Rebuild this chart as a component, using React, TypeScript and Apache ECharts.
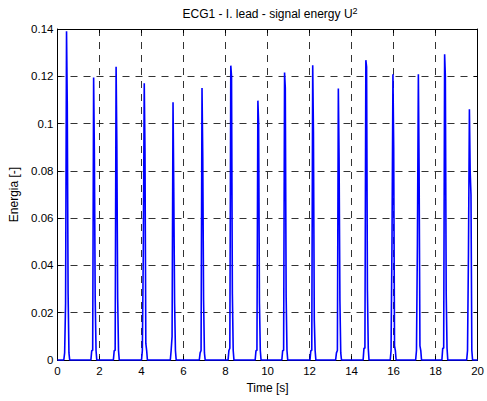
import React, { useEffect, useRef } from "react";
import * as echarts from "echarts";

// Tick labels
const xTicks = [0, 2, 4, 6, 8, 10, 12, 14, 16, 18, 20];
const yTicks = [0, 0.02, 0.04, 0.06, 0.08, 0.1, 0.12, 0.14];

// Beat (R-peak) times in seconds
const beatTimes = [0.43, 1.72, 2.79, 4.13, 5.5, 6.88, 8.25, 9.54, 10.81, 12.15, 13.37, 14.68, 15.97, 17.18, 18.43, 19.61];
// Energy levels of each beat
const peakValues = [0.139, 0.1195, 0.124, 0.117, 0.109, 0.115, 0.1245, 0.1097, 0.1216, 0.1247, 0.1148, 0.1268, 0.1209, 0.1209, 0.1293, 0.1061];
const leftValues = [0.024, 0.004, 0.004, 0.046, 0.01, 0.004, 0.005, 0.004, 0.004, 0.004, 0.004, 0.005, 0.051, 0.0495, 0.005, 0.045];
const shoulderValues = [0.108, 0.088, 0.091, 0.088, 0.072, 0.086, 0.12, 0.1, 0.115, 0.096, 0.0855, 0.124, 0.09, 0.08, 0.12, 0.08];
const tailValues = [0.028, 0.026, 0.026, 0.007, 0.024, 0.025, 0.028, 0.024, 0.027, 0.017, 0.025, 0.0295, 0.006, 0.006, 0.028, 0.07];
const baseValues = [0.003, 0.004, 0.004, 0.004, 0.004, 0.003, 0.004, 0.004, 0.004, 0.004, 0.003, 0.005, 0.004, 0.004, 0.005, 0.004];
// time offsets (s) of the samples of each beat relative to its peak
const beatOffsets = [-0.13, -0.09, -0.045, 0, 0.035, 0.075, 0.115, 0.15];

function buildSignal(): [number, number][] {
  const pts: [number, number][] = [[0, 0]];
  beatTimes.forEach((t, i) => {
    const vals = [0, baseValues[i], leftValues[i], peakValues[i], shoulderValues[i], tailValues[i], baseValues[i], 0];
    beatOffsets.forEach((o, k) => pts.push([+(t + o).toFixed(3), vals[k]]));
  });
  pts.push([20, 0]);
  return pts;
}

const FONT = '"Liberation Sans", Arial, Helvetica, sans-serif';

export default function App() {
  const ref = useRef<HTMLDivElement>(null);
  useEffect(() => {
    if (!ref.current) return;
    const chart = echarts.init(ref.current, undefined, { renderer: "svg" });
    const xMin = xTicks[0], xMax = xTicks[xTicks.length - 1], xInt = xTicks[1] - xTicks[0];
    const yMin = yTicks[0], yMax = yTicks[yTicks.length - 1], yInt = +(yTicks[1] - yTicks[0]).toFixed(4);
    const split = { show: true, lineStyle: { color: "#333", width: 1, type: [7, 6] as any } };
    const line = { show: true, onZero: false, lineStyle: { color: "#000", width: 1 } };
    const tick = { show: true, inside: true, length: 4, lineStyle: { color: "#000" } };
    chart.setOption({
      animation: false,
      backgroundColor: "#fff",
      textStyle: { fontFamily: FONT },
      grid: { left: 57.5, right: 5, top: 29, bottom: 41, containLabel: false },
      graphic: [
        {
          type: "text",
          x: 270,
          y: 14,
          style: {
            text: "ECG1 - I. lead - signal energy U{sup|2}",
            align: "center",
            verticalAlign: "middle",
            fontFamily: FONT,
            fontSize: 12,
            fill: "#000",
            rich: { sup: { fontSize: 9, fontFamily: FONT, verticalAlign: "top", fill: "#000", padding: [0, 0, 7, 0] } },
          },
        },
      ],
      xAxis: [
        {
          type: "value",
          min: xMin,
          max: xMax,
          interval: xInt,
          name: "Time [s]",
          nameLocation: "middle",
          nameGap: 17,
          nameTextStyle: { fontSize: 12, color: "#000", fontFamily: FONT },
          axisLine: line,
          axisTick: tick,
          axisLabel: { color: "#000", fontSize: 11.5, margin: 5, fontFamily: FONT, showMaxLabel: true },
          splitLine: split,
        },
        {
          type: "value",
          position: "top",
          min: xMin,
          max: xMax,
          interval: xInt,
          axisLine: line,
          axisTick: tick,
          axisLabel: { show: false },
          splitLine: { show: false },
        },
      ],
      yAxis: [
        {
          type: "value",
          min: yMin,
          max: yMax,
          interval: yInt,
          name: "Energia [-]",
          nameLocation: "middle",
          nameGap: 36,
          nameTextStyle: { fontSize: 12, color: "#000", fontFamily: FONT },
          axisLine: line,
          axisTick: tick,
          axisLabel: {
            color: "#000",
            fontSize: 11.5,
            margin: 4,
            fontFamily: FONT,
            formatter: (v: number) => String(parseFloat(v.toFixed(2))),
          },
          splitLine: split,
        },
        {
          type: "value",
          position: "right",
          min: yMin,
          max: yMax,
          interval: yInt,
          axisLine: line,
          axisTick: tick,
          axisLabel: { show: false },
          splitLine: { show: false },
        },
      ],
      series: [
        {
          type: "line",
          xAxisIndex: 0,
          yAxisIndex: 0,
          data: buildSignal(),
          showSymbol: false,
          symbol: "none",
          clip: false,
          lineStyle: { color: "#0000ff", width: 1.6 },
          z: 3,
        },
      ],
    });
    return () => chart.dispose();
  }, []);
  return (
    <div
      ref={ref}
      style={{ position: "fixed", left: 0, top: 0, width: 487, height: 401, background: "#fff" }}
    />
  );
}
